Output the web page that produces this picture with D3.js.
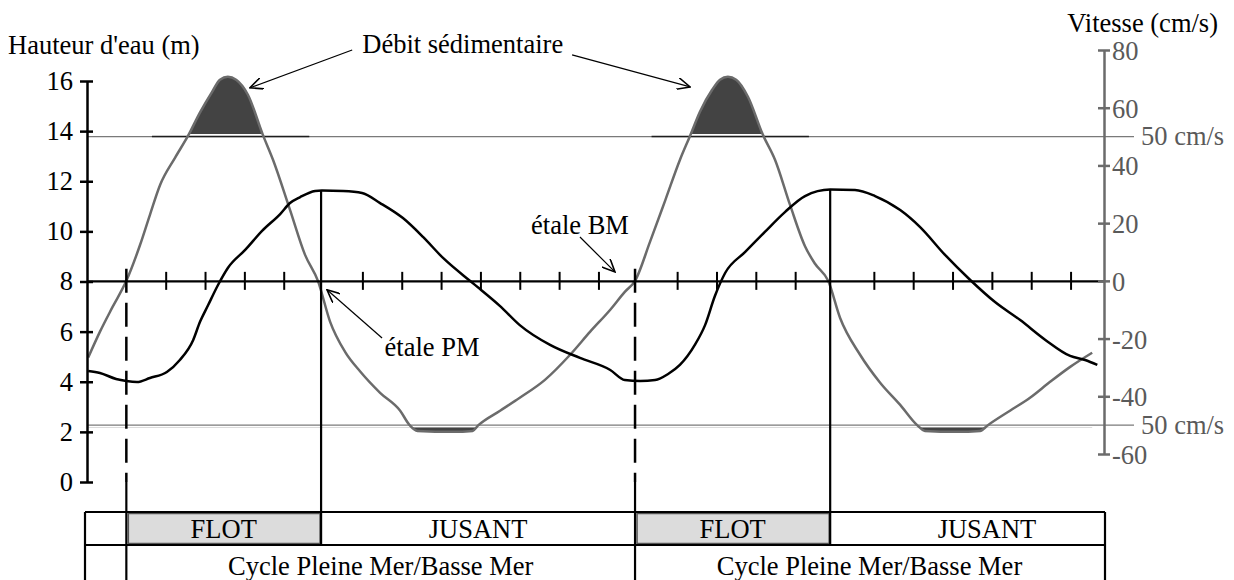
<!DOCTYPE html>
<html>
<head>
<meta charset="utf-8">
<script src="https://cdn.jsdelivr.net/npm/d3@7"></script>
<style>
  body { margin: 0; background: #fff; }
  svg { display: block; font-family: "Liberation Serif", "Times New Roman", serif; }
</style>
</head>
<body>
<div class="box"></div>
<script>
// DATA (temps en heures depuis l'étale de basse mer)
const tempsVitesse = [-0.97, -0.67, -0.36, 0, 0.35, 0.6, 0.86, 1.24, 1.57, 1.87, 2.18, 2.38, 2.58, 2.79, 3.09, 3.47, 3.73, 4.16, 4.54, 4.87,
                      5.18, 5.56, 5.95, 6.45, 6.96, 7.2, 7.4, 8.3, 8.8, 8.95, 9.5, 10.0, 10.64, 11.28, 11.79, 12.3, 12.67, 12.93,
                      13.31, 13.7, 14.07, 14.33, 14.58, 14.89, 15.09, 15.29, 15.5, 15.8, 16.18, 16.49, 16.87, 17.25, 17.5, 17.84,
                      18.14, 18.65, 19.16, 19.67, 20.1, 20.3, 21.1, 21.7, 21.9, 22.46, 22.97, 23.48, 23.99, 24.55];
const vitesse = [-26.6, -17.6, -9.3, 0, 12.5, 22.9, 33.3, 42.7, 50.3, 58.3, 65.5, 69.7, 70.7, 69.7, 64.5, 50.6, 41.9, 24.6, 9.1, 0,
                 -14.2, -24.6, -31.5, -38.8, -45, -50, -52, -52.3, -52, -50, -45, -40.5, -34.3, -25.6, -17.6, -10, -3.8, 0,
                 13.5, 28, 41.9, 50.3, 58.6, 66.2, 69.7, 70.7, 69.7, 63.8, 50.6, 41.9, 26.3, 12, 6, 0,
                 -12.8, -25.6, -35.3, -43, -50, -52, -52.3, -52, -50, -45, -40.5, -35, -29.8, -24.9];

const tempsHauteur = [-0.97, -0.67, -0.26, 0, 0.27, 0.6, 1.03, 1.36, 1.7, 1.87, 2.08, 2.33, 2.58, 3.02, 3.45, 3.91, 4.16, 4.42, 4.8, 4.97,
                      5.51, 5.99, 6.45, 7.03, 7.54, 8.05, 8.74, 8.99, 9.5, 10.0, 10.77, 11.53, 12.3, 12.67, 13.06, 13.44, 13.77,
                      14.07, 14.45, 14.71, 14.96, 15.22, 15.73, 16.23, 16.74, 17.25, 17.89, 18.52, 19.03, 19.67, 20.17, 20.81,
                      21.45, 22.08, 22.72, 23.36, 23.99, 24.37, 24.68];
const hauteur = [4.43, 4.35, 4.11, 4.03, 3.99, 4.15, 4.39, 4.87, 5.67, 6.38, 7.06, 7.86, 8.54, 9.26, 10.02, 10.69, 11.13, 11.37, 11.61, 11.63,
                 11.61, 11.53, 11.13, 10.53, 9.78, 8.94, 8.02, 7.7, 7.02, 6.26, 5.47, 4.95, 4.47, 4.07, 4.03, 4.07, 4.31,
                 4.67, 5.47, 6.26, 7.42, 8.34, 9.18, 9.98, 10.77, 11.41, 11.67, 11.65, 11.41, 10.85, 10.18, 9.06,
                 8.06, 7.18, 6.46, 5.67, 5.03, 4.87, 4.67];

const ticksHauteur = [0, 2, 4, 6, 8, 10, 12, 14, 16];
const ticksVitesse = [-60, -40, -20, 0, 20, 40, 60, 80];
const ticksTemps = [1, 2, 3, 4, 6, 7, 8, 9, 10, 11, 12, 14, 15, 16, 17, 19, 20, 21, 22, 23, 24];

const seuils = [50, -50];
const seuilSombreDebut = [0.65, 13.35];
const seuilSombreFin = [4.65, 17.35];

const etaleBM = [0, 12.93, 25.86];
const etalePM = [4.95, 17.89];
const phases = ["FLOT", "JUSANT"];
const cycleTexte = "Cycle Pleine Mer/Basse Mer";

/////////////////////////////////////////////////////////////////

// SVG
const w = 1234;
const h = 580;
const fs = "26.5px";

const svg = d3.select(".box")
    .append("svg")
    .attr("width", w)
    .attr("height", h);

// SCALES
const x = d3.scaleLinear().domain([-1, 24.85]).range([87, 1104]);
const yH = d3.scaleLinear().domain([0, 16]).range([482, 81]);
const yV = d3.scaleLinear().domain([-60, 80]).range([454, 50]);

const xMin = x(-1), xMax = x(24.85);
const tableHaut = 512, tableMilieu = 545, tableBas = 580;
const gris = "#6b6b6b";

const dataV = tempsVitesse.map((t, i) => ({t: t, v: vitesse[i]}));
const dataH = tempsHauteur.map((t, i) => ({t: t, m: hauteur[i]}));

/////////////////////////////////////////////////////////////////

// SEUILS 50 cm/s
svg.selectAll(".seuil")
    .data(seuils)
    .enter()
    .append("line")
    .attr("x1", xMin)
    .attr("x2", xMax + 30)
    .attr("y1", d => yV(d))
    .attr("y2", d => yV(d))
    .attr("stroke", "#7a7a7a")
    .attr("stroke-width", 1.3);

svg.selectAll(".seuil-sombre")
    .data(seuilSombreDebut)
    .enter()
    .append("line")
    .attr("x1", d => x(d))
    .attr("x2", (d, i) => x(seuilSombreFin[i]))
    .attr("y1", yV(50))
    .attr("y2", yV(50))
    .attr("stroke", "#1e1e1e")
    .attr("stroke-width", 1.5);

svg.selectAll(".seuil-label")
    .data(seuils)
    .enter()
    .append("text")
    .attr("x", xMax + 37)
    .attr("y", d => yV(d))
    .attr("dy", "0.33em")
    .style("font-size", fs)
    .style("fill", "#5a5a5a")
    .text("50 cm/s");

// DEBIT SEDIMENTAIRE (zones au-dessus du seuil)
const defs = svg.append("defs");
defs.append("clipPath").attr("id", "clip-flot")
    .append("rect")
    .attr("x", xMin).attr("width", xMax - xMin)
    .attr("y", 0).attr("height", yV(50) - 2.5);
defs.append("clipPath").attr("id", "clip-jusant")
    .append("rect")
    .attr("x", xMin).attr("width", xMax - xMin)
    .attr("y", yV(-50) + 2).attr("height", 100);

svg.append("path")
    .datum(dataV)
    .attr("clip-path", "url(#clip-flot)")
    .attr("fill", "#434343")
    .attr("d", d3.area().x(d => x(d.t)).y0(yV(50) - 2.5).y1(d => yV(d.v)).curve(d3.curveMonotoneX));

svg.append("path")
    .datum(dataV)
    .attr("clip-path", "url(#clip-jusant)")
    .attr("fill", "#434343")
    .attr("d", d3.area().x(d => x(d.t)).y0(yV(-50) + 2).y1(d => yV(d.v)).curve(d3.curveMonotoneX));

// COURBES
svg.append("path")
    .datum(dataV)
    .attr("fill", "none")
    .attr("stroke", gris)
    .attr("stroke-width", 2.5)
    .attr("d", d3.line().x(d => x(d.t)).y(d => yV(d.v)).curve(d3.curveMonotoneX));

svg.append("path")
    .datum(dataH)
    .attr("fill", "none")
    .attr("stroke", "#000")
    .attr("stroke-width", 2.5)
    .attr("d", d3.line().x(d => x(d.t)).y(d => yH(d.m)).curve(d3.curveMonotoneX));

/////////////////////////////////////////////////////////////////

// AXE DES TEMPS (0 cm/s)
const axeT = svg.append("g")
    .attr("transform", "translate(0," + yV(0) + ")")
    .call(d3.axisBottom(x).tickValues(ticksTemps).tickFormat("").tickSizeOuter(0));
axeT.select(".domain").attr("stroke", "#000").attr("stroke-width", 2.2);
axeT.selectAll(".tick line").attr("y1", -9).attr("y2", 9).attr("stroke", "#000").attr("stroke-width", 2);

// AXE GAUCHE (hauteur)
const axeG = svg.append("g")
    .attr("transform", "translate(" + xMin + ",0)")
    .call(d3.axisLeft(yH).tickValues(ticksHauteur).tickFormat(d => String(d)).tickSizeOuter(0));
axeG.select(".domain").attr("stroke", "#000").attr("stroke-width", 2.5);
axeG.selectAll(".tick line").attr("x1", -7).attr("x2", 6).attr("stroke", "#000").attr("stroke-width", 2.5);
axeG.selectAll(".tick text")
    .attr("x", -14)
    .style("font-family", "Liberation Serif, Times New Roman, serif")
    .style("font-size", fs)
    .style("fill", "#000");

// AXE DROIT (vitesse) - tirets simples comme dans l'original
const axeD = svg.append("g")
    .attr("transform", "translate(" + xMax + ",0)")
    .call(d3.axisRight(yV).tickValues(ticksVitesse).tickFormat(d => String(d)).tickSizeOuter(0));
axeD.select(".domain").attr("stroke", gris).attr("stroke-width", 2.5);
axeD.selectAll(".tick line").attr("x1", -6).attr("x2", 6).attr("stroke", gris).attr("stroke-width", 2.5);
axeD.selectAll(".tick text")
    .attr("x", 8)
    .attr("dy", "0.36em")
    .style("font-family", "Liberation Serif, Times New Roman, serif")
    .style("font-size", fs)
    .style("fill", "#5a5a5a");

svg.append("text")
    .attr("x", 8)
    .attr("y", 54)
    .style("font-size", fs)
    .text("Hauteur d'eau (m)");

svg.append("text")
    .attr("x", 1218)
    .attr("y", 32)
    .attr("text-anchor", "end")
    .style("font-size", fs)
    .text("Vitesse (cm/s)");

/////////////////////////////////////////////////////////////////

// TABLEAU FLOT / JUSANT
const bmVisibles = etaleBM.filter(t => x(t) < xMax);

// cellules FLOT grisées
svg.selectAll(".flot")
    .data(etalePM)
    .enter()
    .append("rect")
    .attr("x", (d, i) => x(etaleBM[i]) + 2)
    .attr("y", tableHaut + 1.5)
    .attr("width", (d, i) => x(d) - x(etaleBM[i]) - 3)
    .attr("height", tableMilieu - tableHaut - 3)
    .attr("fill", "#dcdcdc")
    .attr("stroke", "#555")
    .attr("stroke-width", 1.5);

// lignes horizontales et bords
[tableHaut, tableMilieu].forEach(yy => {
    svg.append("line")
        .attr("x1", xMin - 2).attr("x2", xMax + 1)
        .attr("y1", yy).attr("y2", yy)
        .attr("stroke", "#000").attr("stroke-width", 2.2);
});
[xMin - 2, xMax + 1].forEach(xx => {
    svg.append("line")
        .attr("x1", xx).attr("x2", xx)
        .attr("y1", tableHaut).attr("y2", tableBas)
        .attr("stroke", "#000").attr("stroke-width", 2.2);
});

// étales de basse mer : tirets puis trait plein
svg.selectAll(".bm-tirets")
    .data(bmVisibles)
    .enter()
    .append("line")
    .attr("x1", d => x(d)).attr("x2", d => x(d))
    .attr("y1", yV(0) - 12).attr("y2", yH(0))
    .attr("stroke", "#000")
    .attr("stroke-width", 2.5)
    .attr("stroke-dasharray", "24,10");

svg.selectAll(".bm-plein")
    .data(bmVisibles)
    .enter()
    .append("line")
    .attr("x1", d => x(d)).attr("x2", d => x(d))
    .attr("y1", yH(0)).attr("y2", tableBas)
    .attr("stroke", "#000")
    .attr("stroke-width", 2.2);

// étales de pleine mer
const hauteurA = t => {
    const i = d3.bisector(d => d.t).left(dataH, t);
    return dataH[Math.min(i, dataH.length - 1)].m;
};
svg.selectAll(".pm")
    .data(etalePM)
    .enter()
    .append("line")
    .attr("x1", d => x(d)).attr("x2", d => x(d))
    .attr("y1", d => yH(hauteurA(d)))
    .attr("y2", tableMilieu)
    .attr("stroke", "#000")
    .attr("stroke-width", 2.2);

// textes FLOT / JUSANT / cycle
etalePM.forEach((pm, i) => {
    const finCycle = Math.min(x(etaleBM[i + 1]), xMax);
    svg.append("text")
        .attr("x", (x(etaleBM[i]) + x(pm)) / 2)
        .attr("y", 538)
        .attr("text-anchor", "middle")
        .style("font-size", fs)
        .text(phases[0]);
    svg.append("text")
        .attr("x", (x(pm) + x(etaleBM[i + 1])) / 2)
        .attr("y", 538)
        .attr("text-anchor", "middle")
        .style("font-size", fs)
        .text(phases[1]);
    svg.append("text")
        .attr("x", (x(etaleBM[i]) + finCycle) / 2)
        .attr("y", 575)
        .attr("text-anchor", "middle")
        .style("font-size", fs)
        .text(cycleTexte);
});

/////////////////////////////////////////////////////////////////

// ANNOTATIONS
defs.append("marker")
    .attr("id", "fleche")
    .attr("viewBox", "0 0 14 12")
    .attr("refX", 13)
    .attr("refY", 6)
    .attr("markerWidth", 14)
    .attr("markerHeight", 12)
    .attr("markerUnits", "userSpaceOnUse")
    .attr("orient", "auto")
    .append("path")
    .attr("d", "M0,0 L13,6 L0,12")
    .attr("fill", "none")
    .attr("stroke", "#000")
    .attr("stroke-width", 1.6);

const fleches = [
    {t0: 5.74, v0: 80, t1: 3.14, v1: 66.9},
    {t0: 11.33, v0: 78.3, t1: 14.33, v1: 67.2},
    {t0: 11.53, v0: 15.2, t1: 12.42, v1: 3.1},
    {t0: 6.5, v0: -19.8, t1: 5.1, v1: -3.1}
];
svg.selectAll(".fleche")
    .data(fleches)
    .enter()
    .append("line")
    .attr("x1", d => x(d.t0)).attr("y1", d => yV(d.v0))
    .attr("x2", d => x(d.t1)).attr("y2", d => yV(d.v1))
    .attr("stroke", "#000")
    .attr("stroke-width", 1.2)
    .attr("marker-end", "url(#fleche)");

const etiquettes = [
    {t: 8.55, v: 78.8, texte: "Débit sédimentaire"},
    {t: 11.53, v: 16.1, texte: "étale BM"},
    {t: 7.77, v: -26.2, texte: "étale PM"}
];
svg.selectAll(".etiquette")
    .data(etiquettes)
    .enter()
    .append("text")
    .attr("x", d => x(d.t))
    .attr("y", d => yV(d.v))
    .attr("text-anchor", "middle")
    .style("font-size", fs)
    .text(d => d.texte);
</script>
</body>
</html>
